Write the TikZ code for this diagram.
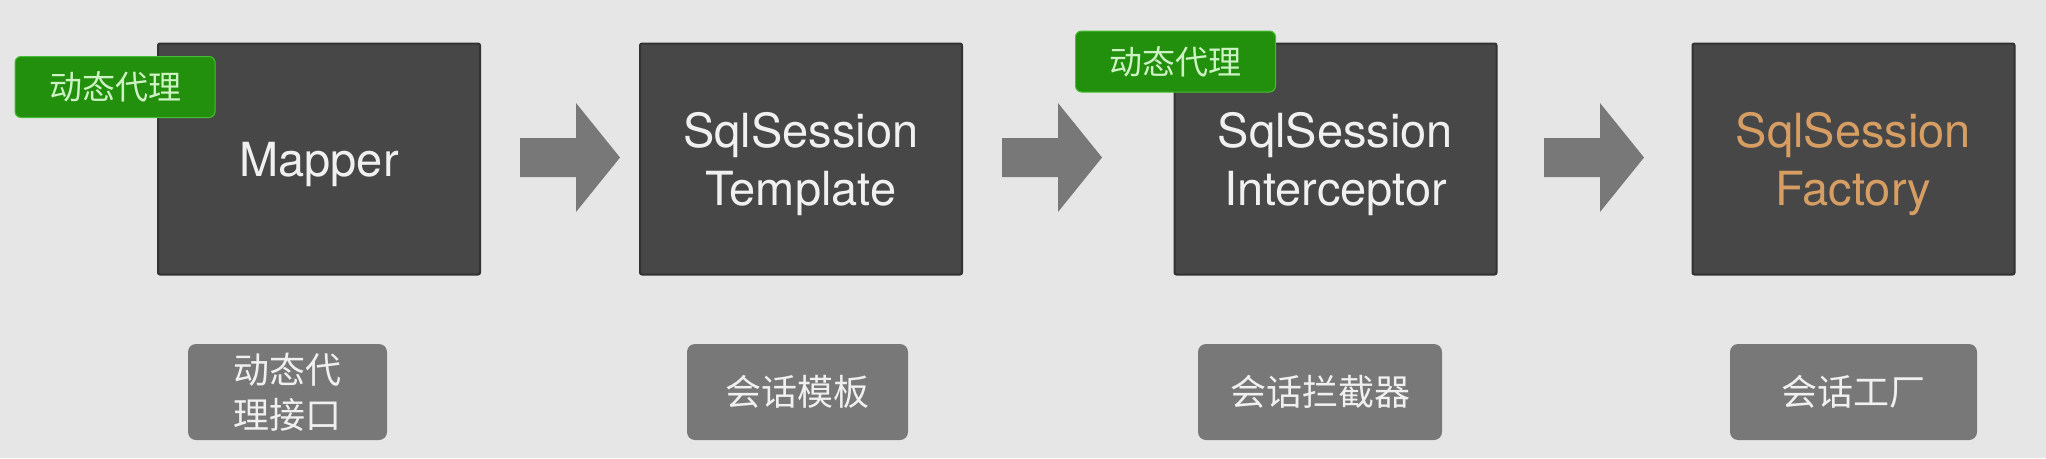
\documentclass[tikz,border=0pt]{standalone}
\usepackage{fontspec}
\setmainfont{TeX Gyre Heros}
\newfontfamily\cjk{Noto Sans CJK SC}
\definecolor{bgc}{RGB}{230,230,230}
\definecolor{boxc}{RGB}{71,71,71}
\definecolor{boxb}{RGB}{50,50,50}
\definecolor{arrc}{RGB}{120,120,120}
\definecolor{labc}{RGB}{120,120,120}
\definecolor{tagc}{RGB}{34,144,12}
\definecolor{tagb}{RGB}{70,190,50}
\definecolor{tagt}{RGB}{205,242,195}
\definecolor{orng}{RGB}{214,158,98}
\begin{document}
\begin{tikzpicture}[x=1pt,y=-1pt,
  mainbox/.style={rectangle,rounded corners=2pt,fill=boxc,draw=boxb,line width=2pt,
    minimum width=322pt,minimum height=231pt,inner sep=0pt,text=white!94!black,
    align=center,text depth=0pt,font=\fontsize{47}{58}\selectfont},
  tagbox/.style={rectangle,rounded corners=6pt,fill=tagc,draw=tagb,line width=1pt,
    minimum width=200pt,minimum height=61pt,inner sep=0pt,text=tagt,
    font=\cjk\fontsize{33}{40}\selectfont},
  labbox/.style={rectangle,rounded corners=8pt,fill=labc,
    minimum height=96pt,inner sep=0pt,text=white!94!black,align=center,
    font=\cjk\fontsize{36}{45}\selectfont},
  blockarr/.style={fill=arrc}]
\fill[bgc] (0,0) rectangle (2046,458);
\useasboundingbox (0,0) rectangle (2046,458);
% main boxes
\node[mainbox] (b1) at (319,159) {Mapper};
\node[mainbox] (b2) at (801,159) {SqlSession\\Template};
\node[mainbox] (b3) at (1335.5,159) {SqlSession\\Interceptor};
\node[mainbox,text=orng] (b4) at (1853.5,159) {SqlSession\\Factory};
% tags
\node[tagbox] (t1) at (115,87) {动态代理};
\node[tagbox] (t2) at (1175.5,61.5) {动态代理};
% block arrows
\coordinate (a1) at (520,157.5);
\coordinate (a2) at (1002,157.5);
\coordinate (a3) at (1544,157.5);
\foreach \a in {a1,a2,a3}{
  \fill[blockarr] ([shift={(0,-19.5)}]\a) -- ([shift={(56,-19.5)}]\a) -- ([shift={(56,-54.5)}]\a)
    -- ([shift={(100,0)}]\a) -- ([shift={(56,54.5)}]\a) -- ([shift={(56,19.5)}]\a)
    -- ([shift={(0,19.5)}]\a) -- cycle;
}
% labels
\node[labbox,minimum width=199pt] (l1) at (287.5,392) {动态代\\理接口};
\node[labbox,minimum width=221pt] (l2) at (797.5,392) {会话模板};
\node[labbox,minimum width=244pt] (l3) at (1320,392) {会话拦截器};
\node[labbox,minimum width=247pt] (l4) at (1853.5,392) {会话工厂};
\end{tikzpicture}
\end{document}
